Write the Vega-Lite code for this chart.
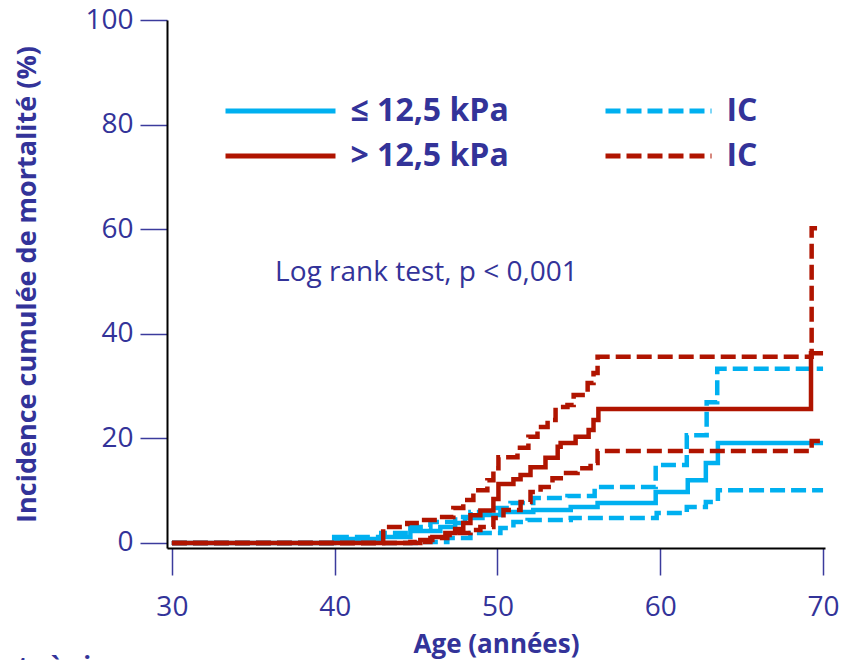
{
  "$schema": "https://vega.github.io/schema/vega-lite/v6.json",
  "width": 658,
  "height": 528,
  "autosize": {"type": "none"},
  "padding": {"left": 167, "top": 20, "right": 16, "bottom": 112},
  "background": "white",
  "config": {"view": {"stroke": null}, "font": "Open Sans"},
  "datasets": {
    "curves": [
      {"series": "le", "legend": "le", "age": 30, "inc": 0},
      {"series": "le", "legend": "le", "age": 39.97, "inc": 0.76},
      {"series": "le", "legend": "le", "age": 42.86, "inc": 1.15},
      {"series": "le", "legend": "le", "age": 44.65, "inc": 2.3},
      {"series": "le", "legend": "le", "age": 46.49, "inc": 3.06},
      {"series": "le", "legend": "le", "age": 47.4, "inc": 3.82},
      {"series": "le", "legend": "le", "age": 48.0, "inc": 4.78},
      {"series": "le", "legend": "le", "age": 49.08, "inc": 5.35},
      {"series": "le", "legend": "le", "age": 50.18, "inc": 5.93},
      {"series": "le", "legend": "le", "age": 52.2, "inc": 6.3},
      {"series": "le", "legend": "le", "age": 54.5, "inc": 6.9},
      {"series": "le", "legend": "le", "age": 56.15, "inc": 7.65},
      {"series": "le", "legend": "le", "age": 59.72, "inc": 9.75},
      {"series": "le", "legend": "le", "age": 61.69, "inc": 12.0},
      {"series": "le", "legend": "le", "age": 62.8, "inc": 15.3},
      {"series": "le", "legend": "le", "age": 63.54, "inc": 19.1},
      {"series": "le", "legend": "le", "age": 70, "inc": 19.1},

      {"series": "le_hi", "legend": "leIC", "age": 30, "inc": 0},
      {"series": "le_hi", "legend": "leIC", "age": 39.97, "inc": 1.15},
      {"series": "le_hi", "legend": "leIC", "age": 42.86, "inc": 1.91},
      {"series": "le_hi", "legend": "leIC", "age": 44.65, "inc": 3.06},
      {"series": "le_hi", "legend": "leIC", "age": 45.88, "inc": 4.0},
      {"series": "le_hi", "legend": "leIC", "age": 47.4, "inc": 4.97},
      {"series": "le_hi", "legend": "leIC", "age": 48.34, "inc": 5.93},
      {"series": "le_hi", "legend": "leIC", "age": 49.75, "inc": 6.7},
      {"series": "le_hi", "legend": "leIC", "age": 50.8, "inc": 7.65},
      {"series": "le_hi", "legend": "leIC", "age": 52.2, "inc": 8.6},
      {"series": "le_hi", "legend": "leIC", "age": 54.3, "inc": 9.0},
      {"series": "le_hi", "legend": "leIC", "age": 55.97, "inc": 10.7},
      {"series": "le_hi", "legend": "leIC", "age": 59.72, "inc": 14.9},
      {"series": "le_hi", "legend": "leIC", "age": 61.63, "inc": 20.6},
      {"series": "le_hi", "legend": "leIC", "age": 62.85, "inc": 26.9},
      {"series": "le_hi", "legend": "leIC", "age": 63.5, "inc": 33.3},
      {"series": "le_hi", "legend": "leIC", "age": 70, "inc": 33.3},

      {"series": "le_lo", "legend": "leIC", "age": 30, "inc": 0},
      {"series": "le_lo", "legend": "leIC", "age": 45.26, "inc": 0.2},
      {"series": "le_lo", "legend": "leIC", "age": 46.92, "inc": 0.96},
      {"series": "le_lo", "legend": "leIC", "age": 48.34, "inc": 1.91},
      {"series": "le_lo", "legend": "leIC", "age": 50.18, "inc": 2.87},
      {"series": "le_lo", "legend": "leIC", "age": 50.98, "inc": 4.0},
      {"series": "le_lo", "legend": "leIC", "age": 51.85, "inc": 4.4},
      {"series": "le_lo", "legend": "leIC", "age": 54.5, "inc": 4.78},
      {"series": "le_lo", "legend": "leIC", "age": 59.78, "inc": 5.74},
      {"series": "le_lo", "legend": "leIC", "age": 61.63, "inc": 6.9},
      {"series": "le_lo", "legend": "leIC", "age": 62.8, "inc": 7.84},
      {"series": "le_lo", "legend": "leIC", "age": 63.54, "inc": 10.1},
      {"series": "le_lo", "legend": "leIC", "age": 70, "inc": 10.1},

      {"series": "gt", "legend": "gt", "age": 30, "inc": 0},
      {"series": "gt", "legend": "gt", "age": 44.34, "inc": 0},
      {"series": "gt", "legend": "gt", "age": 45.26, "inc": 0.57},
      {"series": "gt", "legend": "gt", "age": 46.0, "inc": 1.15},
      {"series": "gt", "legend": "gt", "age": 46.8, "inc": 1.91},
      {"series": "gt", "legend": "gt", "age": 47.4, "inc": 2.68},
      {"series": "gt", "legend": "gt", "age": 47.9, "inc": 3.8},
      {"series": "gt", "legend": "gt", "age": 48.34, "inc": 5.3},
      {"series": "gt", "legend": "gt", "age": 48.95, "inc": 6.2},
      {"series": "gt", "legend": "gt", "age": 49.75, "inc": 8.4},
      {"series": "gt", "legend": "gt", "age": 50.06, "inc": 11.3},
      {"series": "gt", "legend": "gt", "age": 50.98, "inc": 12.2},
      {"series": "gt", "legend": "gt", "age": 51.42, "inc": 13.0},
      {"series": "gt", "legend": "gt", "age": 52.03, "inc": 14.5},
      {"series": "gt", "legend": "gt", "age": 52.95, "inc": 16.3},
      {"series": "gt", "legend": "gt", "age": 53.7, "inc": 18.4},
      {"series": "gt", "legend": "gt", "age": 53.88, "inc": 19.1},
      {"series": "gt", "legend": "gt", "age": 54.8, "inc": 20.3},
      {"series": "gt", "legend": "gt", "age": 55.6, "inc": 21.6},
      {"series": "gt", "legend": "gt", "age": 55.9, "inc": 23.5},
      {"series": "gt", "legend": "gt", "age": 56.2, "inc": 25.6},
      {"series": "gt", "legend": "gt", "age": 69.26, "inc": 36.3},
      {"series": "gt", "legend": "gt", "age": 70, "inc": 36.3},

      {"series": "gt_hi", "legend": "gtIC", "age": 30, "inc": 0},
      {"series": "gt_hi", "legend": "gtIC", "age": 42.98, "inc": 3.06},
      {"series": "gt_hi", "legend": "gtIC", "age": 44.46, "inc": 3.82},
      {"series": "gt_hi", "legend": "gtIC", "age": 45.26, "inc": 4.4},
      {"series": "gt_hi", "legend": "gtIC", "age": 46.3, "inc": 4.97},
      {"series": "gt_hi", "legend": "gtIC", "age": 47.29, "inc": 6.7},
      {"series": "gt_hi", "legend": "gtIC", "age": 47.9, "inc": 8.2},
      {"series": "gt_hi", "legend": "gtIC", "age": 48.52, "inc": 10.1},
      {"series": "gt_hi", "legend": "gtIC", "age": 49.38, "inc": 12.0},
      {"series": "gt_hi", "legend": "gtIC", "age": 49.75, "inc": 14.3},
      {"series": "gt_hi", "legend": "gtIC", "age": 50.06, "inc": 16.4},
      {"series": "gt_hi", "legend": "gtIC", "age": 51.23, "inc": 18.2},
      {"series": "gt_hi", "legend": "gtIC", "age": 51.9, "inc": 20.3},
      {"series": "gt_hi", "legend": "gtIC", "age": 52.46, "inc": 22.2},
      {"series": "gt_hi", "legend": "gtIC", "age": 53.08, "inc": 23.5},
      {"series": "gt_hi", "legend": "gtIC", "age": 53.57, "inc": 26.0},
      {"series": "gt_hi", "legend": "gtIC", "age": 54.3, "inc": 26.4},
      {"series": "gt_hi", "legend": "gtIC", "age": 54.68, "inc": 28.3},
      {"series": "gt_hi", "legend": "gtIC", "age": 55.54, "inc": 30.6},
      {"series": "gt_hi", "legend": "gtIC", "age": 55.9, "inc": 32.5},
      {"series": "gt_hi", "legend": "gtIC", "age": 56.15, "inc": 35.6},
      {"series": "gt_hi", "legend": "gtIC", "age": 69.3, "inc": 60.2},
      {"series": "gt_hi", "legend": "gtIC", "age": 70, "inc": 60.2},

      {"series": "gt_lo", "legend": "gtIC", "age": 30, "inc": 0},
      {"series": "gt_lo", "legend": "gtIC", "age": 44.65, "inc": 0.2},
      {"series": "gt_lo", "legend": "gtIC", "age": 45.88, "inc": 0.96},
      {"series": "gt_lo", "legend": "gtIC", "age": 46.92, "inc": 1.53},
      {"series": "gt_lo", "legend": "gtIC", "age": 47.54, "inc": 1.91},
      {"series": "gt_lo", "legend": "gtIC", "age": 48.34, "inc": 2.49},
      {"series": "gt_lo", "legend": "gtIC", "age": 48.95, "inc": 3.06},
      {"series": "gt_lo", "legend": "gtIC", "age": 49.75, "inc": 4.78},
      {"series": "gt_lo", "legend": "gtIC", "age": 50.37, "inc": 6.3},
      {"series": "gt_lo", "legend": "gtIC", "age": 51.42, "inc": 7.84},
      {"series": "gt_lo", "legend": "gtIC", "age": 52.03, "inc": 9.75},
      {"series": "gt_lo", "legend": "gtIC", "age": 52.65, "inc": 10.7},
      {"series": "gt_lo", "legend": "gtIC", "age": 53.38, "inc": 12.4},
      {"series": "gt_lo", "legend": "gtIC", "age": 54.06, "inc": 13.4},
      {"series": "gt_lo", "legend": "gtIC", "age": 54.92, "inc": 14.3},
      {"series": "gt_lo", "legend": "gtIC", "age": 55.72, "inc": 15.3},
      {"series": "gt_lo", "legend": "gtIC", "age": 56.15, "inc": 17.6},
      {"series": "gt_lo", "legend": "gtIC", "age": 69.3, "inc": 19.5},
      {"series": "gt_lo", "legend": "gtIC", "age": 70, "inc": 19.5}
    ]
  },
  "layer": [
    {
      "data": {"name": "curves"},
      "mark": {"type": "line", "interpolate": "step-after", "strokeWidth": 4.5, "strokeCap": "butt", "clip": false},
      "encoding": {
        "x": {
          "field": "age", "type": "quantitative",
          "scale": {"domain": [29.7, 70.12], "nice": false, "zero": false},
          "axis": {
            "values": [30, 40, 50, 60, 70],
            "title": "Age (années)",
            "titleFont": "Open Sans", "titleFontSize": 26, "titleFontWeight": "bold", "titleColor": "#333399",
            "titleBaseline": "alphabetic", "titleY": 104,
            "domainColor": "#000000", "domainWidth": 2,
            "tickColor": "#3b3b9c", "tickWidth": 1.5, "tickSize": 27,
            "labelFont": "Open Sans", "labelFontSize": 28, "labelColor": "#333399", "labelPadding": 18,
            "grid": false
          }
        },
        "y": {
          "field": "inc", "type": "quantitative",
          "scale": {"domain": [-0.96, 100], "nice": false, "zero": false},
          "axis": {
            "values": [0, 20, 40, 60, 80, 100],
            "title": "Incidence cumulée de mortalité (%)",
            "titleFont": "Open Sans", "titleFontSize": 27, "titleFontWeight": "bold", "titleColor": "#333399",
            "titleX": -140, "titleBaseline": "middle",
            "domainColor": "#000000", "domainWidth": 2,
            "tickColor": "#3b3b9c", "tickWidth": 1.5, "tickSize": 27,
            "labelFont": "Open Sans", "labelFontSize": 28, "labelColor": "#333399", "labelPadding": 7,
            "grid": false
          }
        },
        "color": {
          "field": "legend", "type": "nominal",
          "scale": {"domain": ["le", "gt", "leIC", "gtIC"], "range": ["#00b0f0", "#b01400", "#00b0f0", "#b01400"]},
          "legend": {
            "title": null, "orient": "none", "legendX": 58, "legendY": 75, "columns": 2, "padding": 0,
            "symbolType": "M-5.5,0H5.5", "symbolSize": 400, "symbolStrokeWidth": 5, "symbolOffset": 39.5,
            "labelOffset": 54, "labelFont": "Open Sans", "labelFontSize": 32, "labelFontWeight": "bold", "labelColor": "#333399", "labelLimit": 400,
            "rowPadding": 13, "columnPadding": 82,
            "labelExpr": "datum.value == 'le' ? '≤ 12,5 kPa' : (datum.value == 'gt' ? '> 12,5 kPa' : 'IC')",
            "encode": {"symbols": {"update": {
              "strokeDash": {"value": {"expr": "(datum.value == 'leIC' || datum.value == 'gtIC') ? [20, 15] : [1, 0]"}},
              "strokeDashOffset": {"value": 17}
            }}}
          }
        },
        "strokeDash": {
          "field": "legend", "type": "nominal",
          "scale": {"domain": ["le", "gt", "leIC", "gtIC"], "range": [[1, 0], [1, 0], [15, 6], [15, 6]]},
          "legend": {
            "title": null, "orient": "none", "legendX": 58, "legendY": 75, "columns": 2, "padding": 0,
            "symbolType": "M-5.5,0H5.5", "symbolSize": 400, "symbolStrokeWidth": 5, "symbolOffset": 39.5,
            "labelOffset": 54, "labelFont": "Open Sans", "labelFontSize": 32, "labelFontWeight": "bold", "labelColor": "#333399", "labelLimit": 400,
            "rowPadding": 13, "columnPadding": 82,
            "labelExpr": "datum.value == 'le' ? '≤ 12,5 kPa' : (datum.value == 'gt' ? '> 12,5 kPa' : 'IC')",
            "encode": {"symbols": {"update": {
              "strokeDash": {"value": {"expr": "(datum.value == 'leIC' || datum.value == 'gtIC') ? [20, 15] : [1, 0]"}},
              "strokeDashOffset": {"value": 17}
            }}}
          }
        },
        "detail": {"field": "series", "type": "nominal"}
      }
    },
    {
      "data": {"values": [{}]},
      "mark": {"type": "text", "align": "left", "baseline": "middle", "font": "Open Sans", "fontSize": 28, "color": "#333399"},
      "encoding": {
        "x": {"datum": 36.34},
        "y": {"datum": 51.6},
        "text": {"value": "Log rank test, p < 0,001"}
      }
    },
    {
      "data": {"values": [{}]},
      "mark": {"type": "text", "align": "left", "baseline": "alphabetic", "font": "Open Sans", "fontSize": 26, "fontWeight": "bold", "color": "#333399"},
      "encoding": {
        "x": {"datum": 15.4},
        "y": {"datum": -25.4},
        "text": {"value": "Patients à risque"}
      }
    }
  ]
}
